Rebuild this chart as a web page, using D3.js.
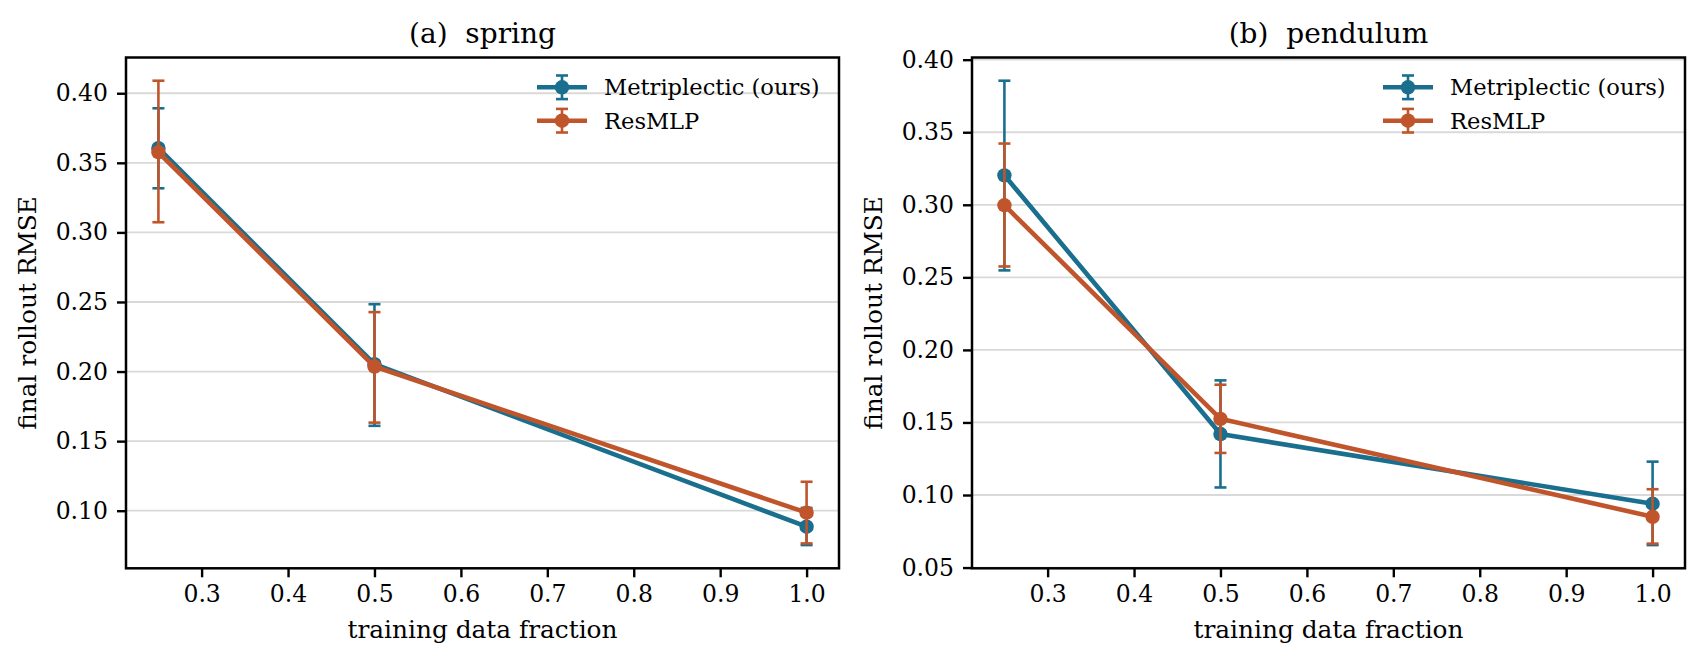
<!DOCTYPE html>
<html>
<head>
<meta charset="utf-8">
<script src="https://cdn.jsdelivr.net/npm/d3@7"></script>
<style>
  html, body { margin: 0; padding: 0; background: #fff; }
  svg { display: block; }
  text { font-family: "DejaVu Serif", serif; fill: #000; white-space: pre; }
</style>
</head>
<body>
<svg id="chart" width="1705" height="666"></svg>
<script>
// ---------- data ----------
const fractions = [0.25, 0.5, 1.0];
const seriesNames = ["Metriplectic (ours)", "ResMLP"];
const xTicks = [0.3, 0.4, 0.5, 0.6, 0.7, 0.8, 0.9, 1.0];

const springMetri   = [0.3605, 0.2053, 0.0885];
const springMetriLo = [0.3317, 0.1610, 0.0753];
const springMetriHi = [0.3892, 0.2484, 0.1020];
const springRes     = [0.3576, 0.2036, 0.0986];
const springResLo   = [0.3073, 0.1633, 0.0765];
const springResHi   = [0.4090, 0.2427, 0.1208];
const springYTicks  = [0.10, 0.15, 0.20, 0.25, 0.30, 0.35, 0.40];

const pendMetri   = [0.3203, 0.1420, 0.0940];
const pendMetriLo = [0.2548, 0.1052, 0.0655];
const pendMetriHi = [0.3855, 0.1790, 0.1230];
const pendRes     = [0.2997, 0.1525, 0.0850];
const pendResLo   = [0.2575, 0.1290, 0.0665];
const pendResHi   = [0.3422, 0.1760, 0.1040];
const pendYTicks  = [0.05, 0.10, 0.15, 0.20, 0.25, 0.30, 0.35, 0.40];

const colors = ["#1a6f8e", "#c0552b"];

// ---------- layout ----------
const svg = d3.select("#chart");
svg.append("rect").attr("width", 1705).attr("height", 666).attr("fill", "#fff");

const panelW = 713, plotTop = 57.5, plotBottom = 568.3;
const panels = [
  { left: 126, title: "(a)  spring", series: [
      { v: springMetri, lo: springMetriLo, hi: springMetriHi },
      { v: springRes, lo: springResLo, hi: springResHi } ], yTicks: springYTicks },
  { left: 972, title: "(b)  pendulum", series: [
      { v: pendMetri, lo: pendMetriLo, hi: pendMetriHi },
      { v: pendRes, lo: pendResLo, hi: pendResHi } ], yTicks: pendYTicks }
];

function drawPanel(p) {
  const g = svg.append("g").attr("transform", `translate(${p.left},0)`);
  const xmin = d3.min(fractions), xmax = d3.max(fractions);
  const xm = (xmax - xmin) * 0.05;
  const x = d3.scaleLinear().domain([xmin - xm, xmax + xm]).range([0, panelW]);
  const allLo = d3.min(p.series.flatMap(s => s.lo));
  const allHi = d3.max(p.series.flatMap(s => s.hi));
  const ym = (allHi - allLo) * 0.05;
  const y = d3.scaleLinear().domain([allLo - ym, allHi + ym]).range([plotBottom, plotTop]);

  // grid
  g.append("g").selectAll("line").data(p.yTicks).join("line")
    .attr("x1", 0).attr("x2", panelW)
    .attr("y1", d => y(d)).attr("y2", d => y(d))
    .attr("stroke", "#d9d9d9").attr("stroke-width", 1.8);

  // series
  const line = d3.line().x(d => x(d[0])).y(d => y(d[1]));
  p.series.forEach((s, i) => {
    const c = colors[i];
    const sg = g.append("g");
    fractions.forEach((f, k) => {
      sg.append("line").attr("x1", x(f)).attr("x2", x(f))
        .attr("y1", y(s.lo[k])).attr("y2", y(s.hi[k]))
        .attr("stroke", c).attr("stroke-width", 2.6);
      [s.lo[k], s.hi[k]].forEach(v => {
        sg.append("line").attr("x1", x(f) - 6).attr("x2", x(f) + 6)
          .attr("y1", y(v)).attr("y2", y(v))
          .attr("stroke", c).attr("stroke-width", 2.6);
      });
    });
    sg.append("path").datum(fractions.map((f, k) => [f, s.v[k]]))
      .attr("d", line).attr("fill", "none").attr("stroke", c)
      .attr("stroke-width", 4.6).attr("stroke-linejoin", "round");
    sg.selectAll("circle").data(fractions).join("circle")
      .attr("cx", d => x(d)).attr("cy", (d, k) => y(s.v[k]))
      .attr("r", 7.2).attr("fill", c);
  });

  // axes
  const xAxis = d3.axisBottom(x).tickValues(xTicks).tickFormat(d3.format(".1f"))
    .tickSize(9).tickPadding(8);
  const xa = g.append("g").attr("transform", `translate(0,${plotBottom})`).call(xAxis);
  const yAxis = d3.axisLeft(y).tickValues(p.yTicks).tickFormat(d3.format(".2f"))
    .tickSize(9).tickPadding(9);
  const ya = g.append("g").call(yAxis);
  [xa, ya].forEach(a => {
    a.select(".domain").remove();
    a.selectAll(".tick line").attr("stroke", "#000").attr("stroke-width", 2.4);
    a.selectAll(".tick text").attr("font-family", "DejaVu Serif").attr("font-size", 23.5).attr("fill", "#000");
  });

  // spines
  g.append("rect").attr("x", 0).attr("y", plotTop).attr("width", panelW).attr("height", plotBottom - plotTop)
    .attr("fill", "none").attr("stroke", "#000").attr("stroke-width", 2.5);

  // title & labels
  g.append("text").attr("x", panelW / 2).attr("y", 43).attr("text-anchor", "middle")
    .attr("xml:space", "preserve").attr("font-size", 28).text(p.title);
  g.append("text").attr("x", panelW / 2).attr("y", 638).attr("text-anchor", "middle")
    .attr("font-size", 24.8).text("training data fraction");
  g.append("text").attr("transform", `translate(-90.5,${(plotTop + plotBottom) / 2}) rotate(-90)`)
    .attr("text-anchor", "middle").attr("font-size", 24.8).text("final rollout RMSE");

  // legend
  const lg = g.append("g");
  seriesNames.forEach((name, i) => {
    const cy = 87.3 + i * 33.4, c = colors[i];
    lg.append("line").attr("x1", 411).attr("x2", 461).attr("y1", cy).attr("y2", cy)
      .attr("stroke", c).attr("stroke-width", 4.6);
    lg.append("line").attr("x1", 436).attr("x2", 436).attr("y1", cy - 11.8).attr("y2", cy + 11.8)
      .attr("stroke", c).attr("stroke-width", 2.6);
    [cy - 11.8, cy + 11.8].forEach(v => lg.append("line")
      .attr("x1", 430).attr("x2", 442).attr("y1", v).attr("y2", v)
      .attr("stroke", c).attr("stroke-width", 2.6));
    lg.append("circle").attr("cx", 436).attr("cy", cy).attr("r", 7.2).attr("fill", c);
    lg.append("text").attr("x", 478).attr("y", cy + 8).attr("font-size", 22.6).text(name);
  });
}
panels.forEach(drawPanel);
</script>
</body>
</html>
